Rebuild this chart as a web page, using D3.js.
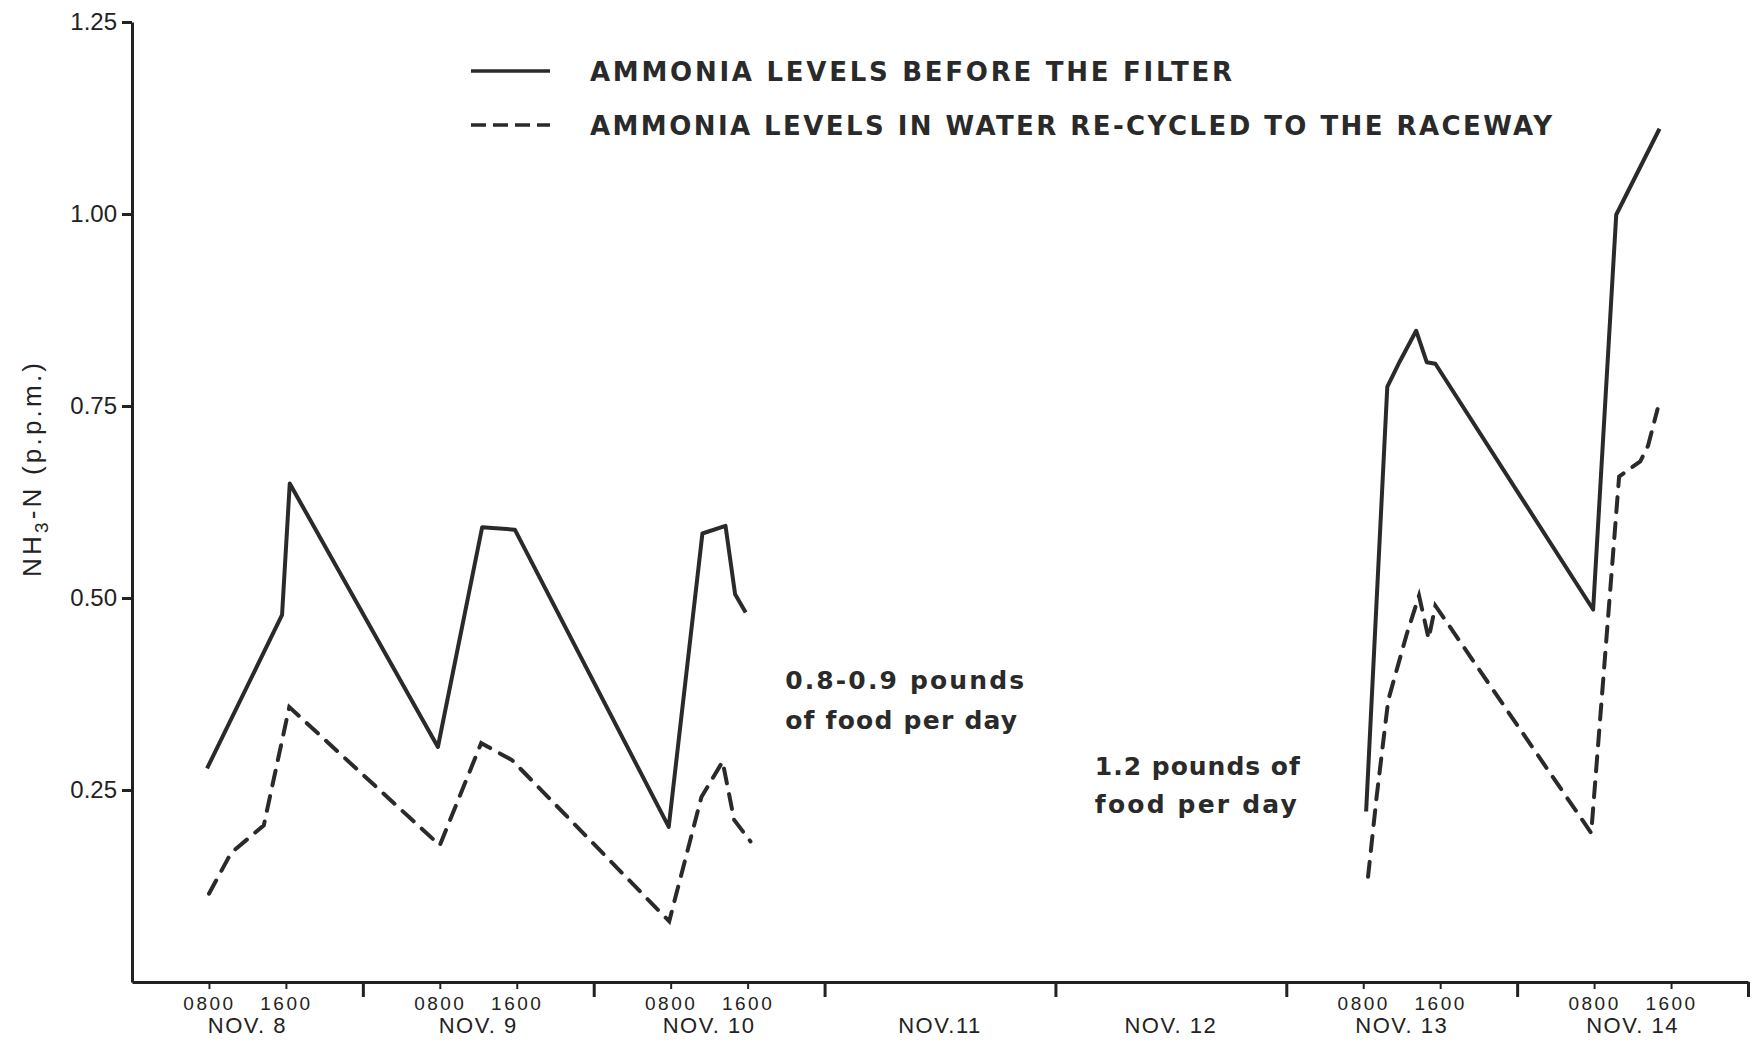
<!DOCTYPE html>
<html>
<head>
<meta charset="utf-8">
<script src="https://cdn.jsdelivr.net/npm/d3@7"></script>
<style>
  body { margin: 0; background: #fff; }
  svg { display: block; }
  .axis path, .axis line { stroke: #222; stroke-width: 3px; }
  .axis text { font-family: "Liberation Sans", Arial, sans-serif; fill: #222; }
</style>
</head>
<body>
<div id="chart"></div>
<script>
// hours counted from 0000 Nov. 8 ; null = no readings (Nov. 11-12)
const beforeHours  = [7.8, 15.6, 16.4, 31.8, 36.4, 39.8, 55.8, 59.3, 61.7, 62.7, 63.8, null,
                      128.3, 130.5, 131.8, 133.5, 134.6, 135.5, 151.9, 154.3, 158.8];
const beforeValues = [0.278, 0.478, 0.649, 0.306, 0.592, 0.589, 0.202, 0.584, 0.594, 0.505, 0.481, null,
                      0.222, 0.775, 0.808, 0.848, 0.807, 0.805, 0.485, 0.999, 1.111];

const recycledHours  = [8.0, 10.3, 13.7, 16.35, 32.0, 36.3, 39.5, 55.85, 59.2, 61.4, 62.6, 64.3, null,
                        128.5, 129.4, 130.6, 132.5, 133.8, 134.8, 135.5, 151.7, 154.6, 156.8, 157.6, 158.6];
const recycledValues = [0.115, 0.168, 0.204, 0.358, 0.178, 0.311, 0.289, 0.079, 0.241, 0.287, 0.211, 0.183, null,
                        0.137, 0.242, 0.367, 0.452, 0.503, 0.447, 0.490, 0.194, 0.658, 0.678, 0.698, 0.746];

const yTicks = [0.25, 0.50, 0.75, 1.00, 1.25];
const dayLabels = ["NOV. 8", "NOV. 9", "NOV. 10", "NOV.11", "NOV. 12", "NOV. 13", "NOV. 14"];
const dayBounds = [24, 48, 72, 96, 120, 144, 168];
const timeTicks = [8, 16, 32, 40, 56, 64, 128, 136, 152, 160];
const legendLabels = ["AMMONIA LEVELS BEFORE THE FILTER",
                      "AMMONIA  LEVELS  IN WATER RE-CYCLED TO THE  RACEWAY"];

const width = 1752, height = 1040;

const x = d3.scaleLinear().domain([0, 168]).range([132, 1748]);
const y = d3.scaleLinear().domain([0, 1.25]).range([982, 22]);

const svg = d3.select("#chart")
    .append("svg")
    .attr("width", width)
    .attr("height", height);

// y axis
const yAxis = svg.append("g")
    .attr("class", "axis")
    .attr("transform", "translate(" + x(0) + ",0)")
    .call(d3.axisLeft(y).tickValues(yTicks).tickFormat(d3.format(".2f")).tickSize(10).tickSizeOuter(0).tickPadding(5));
yAxis.selectAll("text").style("font-size", "24px");

// x axis : day boundaries
svg.append("g")
    .attr("class", "axis")
    .attr("transform", "translate(0," + y(0) + ")")
    .call(d3.axisBottom(x).tickValues(dayBounds).tickFormat("").tickSize(15).tickSizeOuter(0));

// x axis : 0800 / 1600 marks
const tAxis = svg.append("g")
    .attr("class", "axis")
    .attr("transform", "translate(0," + y(0) + ")")
    .call(d3.axisBottom(x).tickValues(timeTicks)
        .tickFormat(d => (d % 24 === 8 ? "0800" : "1600"))
        .tickSize(7).tickSizeOuter(0).tickPadding(8));
tAxis.select(".domain").remove();
tAxis.selectAll("line").style("stroke-width", "2px");
tAxis.selectAll("text").style("font-size", "19px").style("letter-spacing", "2.5px");

// day names
svg.append("g")
    .selectAll("text")
    .data(dayLabels)
    .enter().append("text")
    .attr("x", (d, i) => x(i * 24 + 12))
    .attr("y", 1033)
    .attr("text-anchor", "middle")
    .style("font-family", "Liberation Sans, Arial, sans-serif")
    .style("font-size", "22px")
    .style("letter-spacing", "1.5px")
    .style("fill", "#222")
    .text(d => d);

// y axis title
const yTitle = svg.append("text")
    .attr("transform", "translate(41,470) rotate(-90)")
    .attr("text-anchor", "middle")
    .attr("textLength", 214)
    .attr("lengthAdjust", "spacing")
    .style("font-family", "Liberation Sans, Arial, sans-serif")
    .style("font-size", "26px")
    .style("fill", "#222");
yTitle.append("tspan").text("NH");
yTitle.append("tspan").attr("dy", 7).style("font-size", "19px").text("3");
yTitle.append("tspan").attr("dy", -7).text("-N (p.p.m.)");

// series
function series(hours, values) {
    return hours.map((h, i) => ({ h: h, v: values[i] }));
}
const line = d3.line()
    .defined(d => d.h !== null)
    .x(d => x(d.h))
    .y(d => y(d.v));

svg.append("path")
    .datum(series(beforeHours, beforeValues))
    .attr("fill", "none")
    .attr("stroke", "#2a2a2a")
    .attr("stroke-width", 4)
    .attr("stroke-linejoin", "round")
    .attr("d", line);

svg.append("path")
    .datum(series(recycledHours, recycledValues))
    .attr("fill", "none")
    .attr("stroke", "#2a2a2a")
    .attr("stroke-width", 4)
    .attr("stroke-linecap", "round")
    .attr("stroke-dasharray", "15,11")
    .attr("d", line);

// legend
const legend = svg.append("g")
    .style("font-family", "DejaVu Sans, sans-serif")
    .style("font-weight", "bold")
    .style("fill", "#2a2a2a");
const legendY = [71, 125];
const legendLen = [642, 962];
legendLabels.forEach(function (label, i) {
    legend.append("line")
        .attr("x1", 471).attr("x2", 550)
        .attr("y1", legendY[i]).attr("y2", legendY[i])
        .attr("stroke", "#2a2a2a")
        .attr("stroke-width", 3.5)
        .attr("stroke-dasharray", i === 0 ? null : "15,7");
    legend.append("text")
        .attr("x", 590)
        .attr("y", legendY[i] + 10)
        .attr("textLength", legendLen[i])
        .attr("lengthAdjust", "spacing")
        .style("font-size", "26px")
        .text(label);
});

// feeding notes
const notes = [
    { text: "0.8-0.9 pounds", h: 67.9, v: 0.381, len: 239 },
    { text: "of food per day", h: 67.9, v: 0.330, len: 232 },
    { text: "1.2 pounds of", h: 100.1, v: 0.270, len: 205 },
    { text: "food per day", h: 100.1, v: 0.220, len: 202 }
];
svg.append("g")
    .selectAll("text")
    .data(notes)
    .enter().append("text")
    .attr("x", d => x(d.h))
    .attr("y", d => y(d.v))
    .attr("textLength", d => d.len)
    .attr("lengthAdjust", "spacing")
    .style("font-family", "DejaVu Sans, sans-serif")
    .style("font-weight", "bold")
    .style("font-size", "25px")
    .style("fill", "#2a2a2a")
    .text(d => d.text);
</script>
</body>
</html>
